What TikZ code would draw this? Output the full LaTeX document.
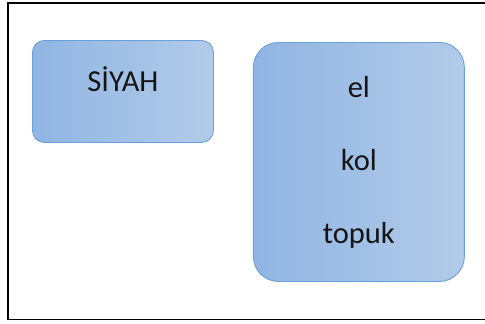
\documentclass[tikz,border=0pt]{standalone}
\usepackage{fontspec}
\setmainfont{Carlito}
\usetikzlibrary{positioning}
\definecolor{boxLeft}{HTML}{90B5E2}
\definecolor{boxRight}{HTML}{B2CBE9}
\definecolor{boxLine}{HTML}{6A9FD8}
\definecolor{ink}{HTML}{151515}
\tikzset{
    % Shapes
    card/.style={rectangle, draw=boxLine, line width=0.9pt,
                 left color=boxLeft, right color=boxRight, text=ink,
                 align=center, font=\fontsize{30.5}{73}\selectfont},
    frame/.style={draw=black, line width=1.8pt}
}
\begin{document}
\begin{tikzpicture}[x=1pt, y=-1pt]
\useasboundingbox (0,0) rectangle (485,324);
\draw[frame] (8,3) rectangle (488,319.5);

\node[card, rounded corners=12pt, minimum width=181pt, inner ysep=6pt,
      text height=45pt, text depth=45pt, anchor=north west] (siyah) at (32,40) {SİYAH};

\node[card, rounded corners=25pt, minimum width=211pt, minimum height=239pt,
      below right=2pt and 39pt of siyah.north east, anchor=north west] (parts)
      {el\\kol\\topuk};
\end{tikzpicture}
\end{document}
